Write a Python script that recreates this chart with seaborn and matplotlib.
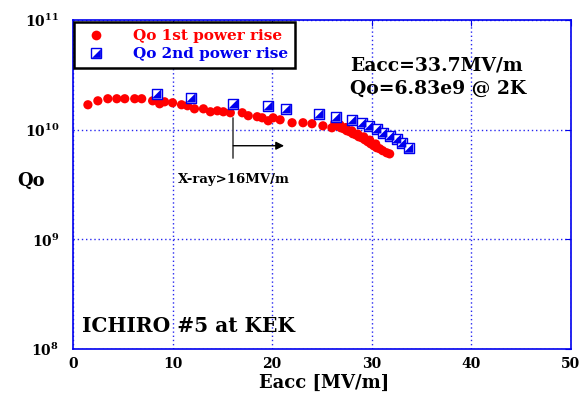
import matplotlib
matplotlib.use("Agg")
import matplotlib.pyplot as plt
import seaborn as sns
import pandas as pd
import numpy as np
from matplotlib.lines import Line2D
from matplotlib.legend_handler import HandlerTuple
from matplotlib.ticker import FixedLocator, FuncFormatter

# ---- data ----
eacc_1st = [1.5, 2.5, 3.5, 4.4, 5.2, 6.2, 6.9, 8.0, 8.7, 9.2, 10.0, 10.9, 11.5, 12.2,
            13.1, 13.8, 14.5, 15.1, 15.8, 17.0, 17.6, 18.5, 19.0, 19.6, 20.1, 20.8,
            22.0, 23.1, 24.0, 25.1, 26.0, 26.3, 26.6, 26.9, 27.2, 27.5, 27.8, 28.1,
            28.4, 28.7, 29.0, 29.3, 29.6, 29.9, 30.2, 30.5, 30.8, 31.1, 31.5, 31.8,
            26.8, 27.4, 28.0, 28.6, 29.2, 29.8, 30.4]
logq_1st = [10.228, 10.264, 10.283, 10.283, 10.283, 10.283, 10.283, 10.264, 10.237, 10.255,
            10.246, 10.228, 10.219, 10.191, 10.191, 10.164, 10.173, 10.164, 10.155, 10.155,
            10.128, 10.119, 10.109, 10.082, 10.109, 10.091, 10.064, 10.064, 10.055, 10.036,
            10.018, 10.064, 10.036, 10.018, 10.009, 9.991, 9.982, 9.964, 9.954, 9.936,
            9.927, 9.909, 9.891, 9.872, 9.854, 9.836, 9.827, 9.809, 9.790, 9.780,
            10.045, 10.020, 9.990, 9.960, 9.935, 9.905, 9.870]
eacc_2nd = [8.4, 11.85, 16.1, 19.6, 21.4, 24.7, 26.4, 28.0, 29.0, 29.7, 30.5, 31.1,
            31.8, 32.5, 33.0, 33.7]
logq_2nd = [10.328, 10.292, 10.237, 10.219, 10.192, 10.146, 10.118, 10.091, 10.064,
            10.036, 10.009, 9.973, 9.945, 9.918, 9.881, 9.834]
q_1st = [10 ** v for v in logq_1st]
q_2nd = [10 ** v for v in logq_2nd]
yticks = [1e8, 1e9, 1e10, 1e11]
xticks = [0, 10, 20, 30, 40, 50]

df1 = pd.DataFrame({"Eacc": eacc_1st, "Qo": q_1st})
df2 = pd.DataFrame({"Eacc": eacc_2nd, "Qo": q_2nd})

sns.set_style("white")
SERIF = ["DejaVu Serif", "Liberation Serif"]
plt.rcParams["font.family"] = SERIF
plt.rcParams["font.weight"] = "bold"
plt.rcParams["text.color"] = "black"
plt.rcParams["axes.labelcolor"] = "black"
plt.rcParams["xtick.color"] = "black"
plt.rcParams["ytick.color"] = "black"
plt.rcParams["mathtext.fontset"] = "custom"
plt.rcParams["mathtext.rm"] = "DejaVu Serif:bold"
plt.rcParams["mathtext.bf"] = "DejaVu Serif:bold"
plt.rcParams["mathtext.it"] = "DejaVu Serif:bold"

BLUE = "#0000ee"
RED = "#ff0000"

fig = plt.figure(figsize=(5.81, 3.95), dpi=100)
ax = fig.add_axes([0.1256, 0.1165, 0.857, 0.8325])

sns.scatterplot(data=df1, x="Eacc", y="Qo", ax=ax, marker="o", s=44, color=RED,
                edgecolor="none", linewidth=0, zorder=3)
sns.scatterplot(data=df2, x="Eacc", y="Qo", ax=ax, marker="s", s=48, color="white",
                edgecolor=BLUE, linewidth=1.0, zorder=4)
tri = [(-1, -1), (1, -1), (1, 1), (-1, -1)]
sns.scatterplot(data=df2, x="Eacc", y="Qo", ax=ax, marker=tri, s=46, color=BLUE,
                edgecolor="none", linewidth=0, zorder=5)

ax.set_yscale("log")
ax.set_xlim(0, 50)
ax.set_ylim(1e8, 1e11)
ax.xaxis.set_major_locator(FixedLocator(xticks))
ax.yaxis.set_major_locator(FixedLocator(yticks))
ax.yaxis.set_minor_locator(FixedLocator([]))
ax.yaxis.set_major_formatter(FuncFormatter(lambda v, p: r"$\mathbf{10^{%d}}$" % round(np.log10(v))))
ax.xaxis.set_major_formatter(FuncFormatter(lambda v, p: "%d" % v))
ax.tick_params(axis="both", which="both", direction="in", length=4, color=BLUE,
               labelcolor="black", top=True, right=True, labelsize=10)
ax.tick_params(axis="x", pad=6)
ax.tick_params(axis="y", pad=10)
for lab in ax.get_xticklabels():
    lab.set_fontweight("bold")
    lab.set_family(SERIF)

ax.grid(True, which="major", color=BLUE, linestyle=(0, (1, 2)), linewidth=1.0, alpha=0.85)
for sp in ax.spines.values():
    sp.set_color(BLUE)
    sp.set_linewidth(1.2)

ax.set_xlabel("Eacc [MV/m]", fontsize=13, fontweight="bold", color="black",
              va="center", ha="center")
ax.set_ylabel("Qo", fontsize=13, fontweight="bold", rotation=0, va="center", ha="center",
              color="black")
ax.xaxis.set_label_coords(0.504, -0.103)
ax.yaxis.set_label_coords(-0.085, 0.51)

# annotations
ax.text(0.556, 0.863, "Eacc=33.7MV/m", transform=ax.transAxes, fontsize=13.5,
        fontweight="bold", va="center", ha="left", color="black")
ax.text(0.556, 0.79, "Qo=6.83e9 @ 2K", transform=ax.transAxes, fontsize=13.5,
        fontweight="bold", va="center", ha="left", color="black")
ax.text(0.211, 0.514, "X-ray>16MV/m", transform=ax.transAxes, fontsize=9.5,
        fontweight="bold", va="center", ha="left", color="black")
ax.text(0.018, 0.07, "ICHIRO #5 at KEK", transform=ax.transAxes, fontsize=14.5,
        fontweight="bold", va="center", ha="left", color="black")

ax.plot([16.1, 16.1], [1.29e10, 5.56e9], color="#555555", linewidth=1.3, zorder=2)
ax.annotate("", xy=(21.2, 7.15e9), xytext=(16.1, 7.15e9),
            arrowprops=dict(arrowstyle="-|>", color="black", lw=1.0,
                            mutation_scale=12, shrinkA=0, shrinkB=0), zorder=2)

# legend
h1 = Line2D([], [], linestyle="none", marker="o", markersize=7, color=RED,
            markeredgecolor="none")
h2a = Line2D([], [], linestyle="none", marker="s", markersize=6.5, markerfacecolor="white",
             markeredgecolor=BLUE, markeredgewidth=1.0)
h2b = Line2D([], [], linestyle="none", marker=tri, markersize=6.3, color=BLUE,
             markeredgecolor="none")
leg = ax.legend([h1, (h2a, h2b)], ["Qo 1st power rise", "Qo 2nd power rise"],
                handler_map={tuple: HandlerTuple(ndivide=1, pad=0)},
                loc="upper left", bbox_to_anchor=(0.002, 0.993), fancybox=False,
                framealpha=1, edgecolor="black", borderpad=0.45, handletextpad=1.4,
                labelspacing=0.25, borderaxespad=0.0,
                prop={"family": SERIF, "weight": "bold", "size": 11})
leg.get_frame().set_linewidth(1.8)
leg.get_texts()[0].set_color(RED)
leg.get_texts()[1].set_color(BLUE)

fig.savefig("out.png", dpi=100)
